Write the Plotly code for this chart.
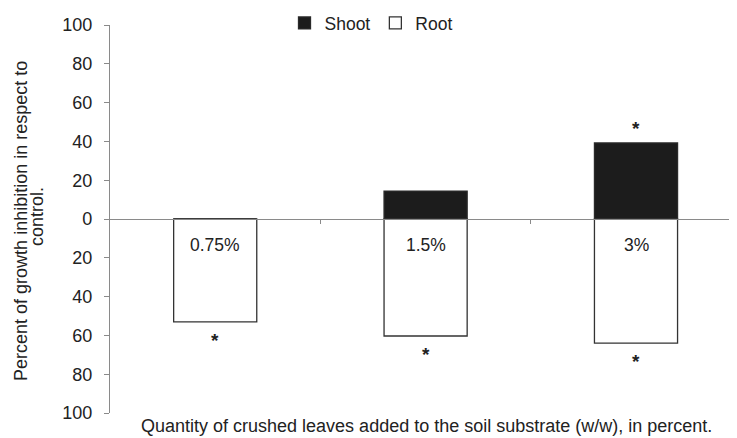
import plotly.graph_objects as go

categories = ["0.75%", "1.5%", "3%"]
shoot = [0, 14.4, 39.2]
root = [-53, -60.3, -64]
shoot_sig = [False, False, True]
root_sig = [True, True, True]
ytick_vals = [-100, -80, -60, -40, -20, 0, 20, 40, 60, 80, 100]
ytick_text = [str(abs(v)) for v in ytick_vals]
ytitle_lines = ["Percent of growth inhibition in respect to", "control."]
xtitle = "Quantity of crushed leaves added to the soil substrate (w/w), in percent."

xpos = list(range(len(categories)))
FONT = "Liberation Sans, Arial, sans-serif"
AXC = "#8a8a8a"

# page has an 8px body margin: figure is 729x430 placed at (8, 8)
fig = go.Figure()
fig.add_trace(go.Bar(x=xpos, y=shoot, name="Shoot", width=0.395,
                     marker=dict(color="#1c1c1c", line=dict(color="#2a2a2a", width=1.3))))
fig.add_trace(go.Bar(x=xpos, y=root, name="Root", width=0.395,
                     marker=dict(color="white", line=dict(color="#333333", width=1.3))))

ann = []
for i, c in enumerate(categories):
    ann.append(dict(x=i, y=-13.5, xref="x", yref="y", text=c, showarrow=False,
                    font=dict(size=17.5, color="#222"), yanchor="middle"))
    if root_sig[i]:
        ann.append(dict(x=i, y=root[i], xref="x", yref="y", text="<b>*</b>", showarrow=False,
                        font=dict(size=19, color="#222"), yanchor="top", yshift=-6))
    if shoot_sig[i]:
        ann.append(dict(x=i, y=shoot[i], xref="x", yref="y", text="<b>*</b>", showarrow=False,
                        font=dict(size=19, color="#222"), yanchor="bottom", yshift=2))

ann.append(dict(x=(426.5 - 110) / 627, y=(413 - 426) / 388, xref="paper", yref="paper",
                text=xtitle, showarrow=False, font=dict(size=18, color="#222"),
                xanchor="center", yanchor="middle"))
for k, (line, px) in enumerate(zip(ytitle_lines, [21, 37])):
    ann.append(dict(x=(px - 110) / 627, y=(0.495 if k == 0 else 0.505), xref="paper", yref="paper",
                    text=line, showarrow=False, textangle=-90, font=dict(size=18, color="#222"),
                    xanchor="center", yanchor="middle"))

fig.update_layout(
    width=729, height=430,
    margin=dict(l=102, r=0, t=17, b=25, autoexpand=False),
    barmode="relative",
    plot_bgcolor="white", paper_bgcolor="white",
    font=dict(family=FONT, color="#222"),
    showlegend=True,
    legend=dict(orientation="h", x=(371 - 110) / 627, y=1.005, xanchor="center", yanchor="middle",
                font=dict(size=17.5), itemwidth=30, tracegroupgap=0, bgcolor="rgba(0,0,0,0)"),
    annotations=ann,
    xaxis=dict(range=[-0.5, 2.48], anchor="free", position=0.5, showline=True, linecolor=AXC,
               linewidth=1.2, ticks="outside", ticklen=4, tickcolor=AXC, tickvals=[0.5, 1.5],
               showticklabels=False, showgrid=False, zeroline=False, fixedrange=True),
    yaxis=dict(range=[-100, 100], tickvals=ytick_vals, ticktext=ytick_text, showline=True,
               linecolor=AXC, linewidth=1.2, ticks="outside", ticklen=5, tickcolor=AXC,
               showgrid=False, zeroline=False, tickfont=dict(size=18, color="#222"),
               ticklabelstandoff=8),
)

fig.write_html("out.html")
